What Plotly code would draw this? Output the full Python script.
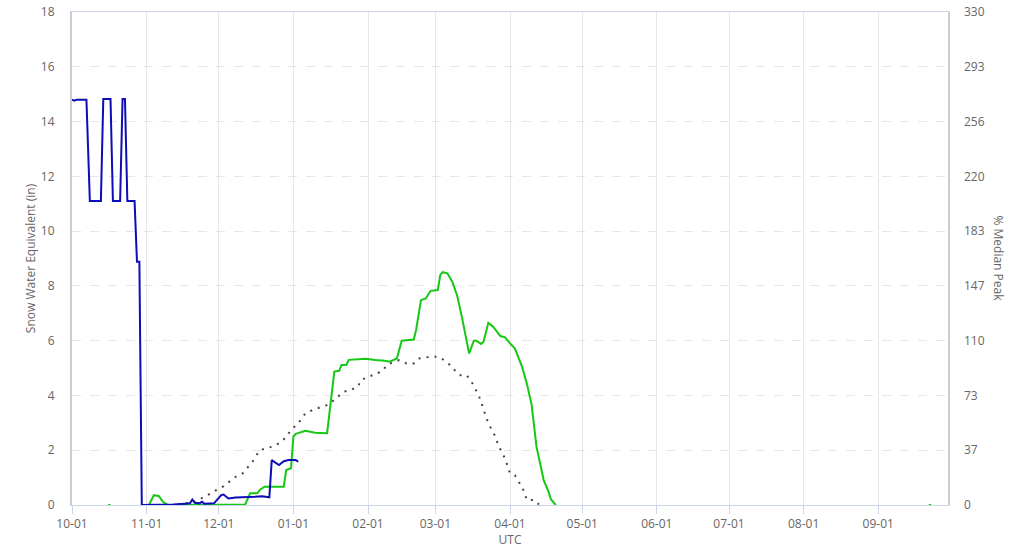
import plotly.graph_objects as go

# ---- data ----
blue_dates = ["2022-10-01", "2022-10-02", "2022-10-03", "2022-10-07", "2022-10-08 10:00",
              "2022-10-13", "2022-10-14", "2022-10-17", "2022-10-18", "2022-10-21",
              "2022-10-22", "2022-10-23", "2022-10-24", "2022-10-27", "2022-10-28",
              "2022-10-29", "2022-10-30", "2022-11-05", "2022-11-12", "2022-11-17",
              "2022-11-19", "2022-11-20", "2022-11-21", "2022-11-23", "2022-11-24",
              "2022-11-25", "2022-11-29", "2022-12-02", "2022-12-03", "2022-12-05",
              "2022-12-08", "2022-12-16", "2022-12-19", "2022-12-22", "2022-12-23",
              "2022-12-26", "2022-12-28", "2022-12-30", "2023-01-02", "2023-01-03"]
blue_vals = [14.80, 14.76, 14.80, 14.80, 11.10,
             11.10, 14.82, 14.82, 11.10, 11.10,
             14.82, 14.82, 11.10, 11.10, 8.88,
             8.88, 0.00, 0.00, 0.02, 0.05,
             0.06, 0.20, 0.08, 0.06, 0.12,
             0.05, 0.06, 0.36, 0.38, 0.24,
             0.27, 0.30, 0.32, 0.28, 1.64,
             1.46, 1.60, 1.64, 1.64, 1.58]

green_dates = ["2022-10-16", "2022-10-17", None,
               "2022-11-02", "2022-11-04", "2022-11-06", "2022-11-08", "2022-11-10",
               "2022-12-01", "2022-12-12", "2022-12-14", "2022-12-17", "2022-12-18",
               "2022-12-20", "2022-12-28", "2022-12-29", "2022-12-31", "2023-01-01",
               "2023-01-02", "2023-01-05", "2023-01-06", "2023-01-10", "2023-01-15",
               "2023-01-18", "2023-01-20", "2023-01-21", "2023-01-23", "2023-01-24",
               "2023-01-29", "2023-01-31", "2023-02-04", "2023-02-08", "2023-02-10",
               "2023-02-13", "2023-02-15", "2023-02-20", "2023-02-21", "2023-02-23",
               "2023-02-25", "2023-02-27", "2023-03-02", "2023-03-03", "2023-03-04",
               "2023-03-06", "2023-03-08", "2023-03-10", "2023-03-12", "2023-03-15",
               "2023-03-17", "2023-03-18", "2023-03-20", "2023-03-21", "2023-03-23",
               "2023-03-25", "2023-03-28", "2023-03-30", "2023-04-01", "2023-04-03",
               "2023-04-06", "2023-04-08", "2023-04-10", "2023-04-12", "2023-04-15",
               "2023-04-17", "2023-04-18", "2023-04-20", None,
               "2023-09-22", "2023-09-23"]
green_vals = [0.0, 0.0, None,
              0.00, 0.36, 0.33, 0.10, 0.00,
              0.02, 0.02, 0.43, 0.43, 0.55,
              0.67, 0.67, 1.28, 1.34, 2.50,
              2.60, 2.68, 2.71, 2.64, 2.62,
              4.87, 4.90, 5.11, 5.11, 5.30,
              5.32, 5.34, 5.29, 5.27, 5.23,
              5.35, 6.00, 6.04, 6.40, 7.48,
              7.54, 7.82, 7.85, 8.39, 8.50,
              8.46, 8.15, 7.66, 6.87, 5.54,
              6.00, 6.00, 5.88, 5.96, 6.65,
              6.51, 6.17, 6.12, 5.90, 5.72,
              5.05, 4.44, 3.65, 2.13, 0.91,
              0.49, 0.21, 0.00, None,
              0.0, 0.0]

median_dates = ["2022-11-14", "2022-11-17", "2022-11-21", "2022-11-25", "2022-11-30",
                "2022-12-03", "2022-12-08", "2022-12-11", "2022-12-13", "2022-12-15",
                "2022-12-18", "2022-12-21", "2022-12-24", "2022-12-27", "2022-12-29",
                "2022-12-31", "2023-01-03", "2023-01-06", "2023-01-09", "2023-01-15",
                "2023-01-17", "2023-01-22", "2023-01-25", "2023-01-28", "2023-01-29",
                "2023-02-04", "2023-02-07", "2023-02-09", "2023-02-14", "2023-02-17",
                "2023-02-20", "2023-02-22", "2023-02-27", "2023-03-02", "2023-03-04",
                "2023-03-07", "2023-03-11", "2023-03-14", "2023-03-16", "2023-03-19",
                "2023-03-21", "2023-03-23", "2023-03-26", "2023-03-27", "2023-03-30",
                "2023-04-01", "2023-04-03", "2023-04-04", "2023-04-06", "2023-04-07",
                "2023-04-08", "2023-04-11", "2023-04-13"]
median_vals = [0.02, 0.06, 0.12, 0.30, 0.55,
               0.69, 1.03, 1.16, 1.37, 1.58,
               2.00, 2.07, 2.15, 2.31, 2.49,
               2.74, 2.98, 3.35, 3.47, 3.65,
               3.77, 4.14, 4.20, 4.34, 4.56,
               4.78, 4.89, 5.13, 5.29, 5.17,
               5.17, 5.35, 5.41, 5.41, 5.32,
               5.11, 4.74, 4.74, 4.50, 4.01,
               3.53, 2.98, 2.49, 2.21, 1.68,
               1.16, 1.09, 0.91, 0.69, 0.45,
               0.18, 0.18, 0.02]

left_ticks = [0, 2, 4, 6, 8, 10, 12, 14, 16, 18]
right_tick_labels = ["0", "37", "73", "110", "147", "183", "220", "256", "293", "330"]
month_ticks = ["2022-10-01", "2022-11-01", "2022-12-01", "2023-01-01", "2023-02-01",
               "2023-03-01", "2023-04-01", "2023-05-01", "2023-06-01", "2023-07-01",
               "2023-08-01", "2023-09-01"]

FONT = "Open Sans, Lato, sans-serif"
TXT = "#666666"

fig = go.Figure()
fig.add_trace(go.Scatter(x=median_dates, y=median_vals, mode="lines",
                         line=dict(color="#444444", width=2, dash="2px,6px"),
                         hoverinfo="skip", showlegend=False))
fig.add_trace(go.Scatter(x=green_dates, y=green_vals, mode="lines",
                         line=dict(color="#14c814", width=2),
                         connectgaps=False, showlegend=False))
fig.add_trace(go.Scatter(x=blue_dates, y=blue_vals, mode="lines",
                         line=dict(color="#0c0cb8", width=2), showlegend=False))
# invisible trace so that the right-hand axis is drawn
fig.add_trace(go.Scatter(x=["2022-10-01"], y=[0], yaxis="y2", mode="lines",
                         line=dict(width=0), hoverinfo="skip", showlegend=False))

fig.update_layout(
    width=1031, height=548,
    margin=dict(l=72, r=83, t=12, b=43, autoexpand=False),
    paper_bgcolor="white", plot_bgcolor="white",
    font=dict(family=FONT, size=12, color=TXT),
    xaxis=dict(
        range=["2022-10-01", "2023-09-30"], automargin=False,
        tickvals=month_ticks, tickformat="%m-%d",
        showgrid=True, gridcolor="#e6e6e6", gridwidth=1,
        showline=True, linecolor="#ccd6eb", linewidth=1, mirror=True,
        ticks="outside", ticklen=8, tickcolor="#ccd6eb",
        tickfont=dict(size=12, color=TXT),
        title=dict(text="UTC", font=dict(size=12, color=TXT), standoff=4),
        zeroline=False,
    ),
    yaxis=dict(
        range=[0, 18], tickvals=left_ticks, automargin=False,
        showgrid=True, gridcolor="#e6e6e6", griddash="dash", gridwidth=1,
        showline=True, linecolor="#cccccc", linewidth=2, mirror=True,
        ticks="", ticklabelstandoff=13,
        tickfont=dict(size=12, color=TXT),
        title=dict(text="Snow Water Equivalent (in)", font=dict(size=12, color=TXT), standoff=3),
        zeroline=False,
    ),
    yaxis2=dict(
        overlaying="y", side="right", range=[0, 330], automargin=False,
        tickvals=[i * 330 / 9 for i in range(10)], ticktext=right_tick_labels,
        showgrid=False, zeroline=False, showline=False,
        ticks="", ticklabelstandoff=15,
        tickfont=dict(size=12, color=TXT),
    ),
    annotations=[dict(text="% Median Peak", textangle=90, xref="paper", yref="paper",
                      x=1.0 + (998 - 948) / 876, y=0.5, xanchor="center", yanchor="middle",
                      showarrow=False, font=dict(size=12, color=TXT, family=FONT))],
)

fig.write_html("out.html", config={"displayModeBar": False},
               post_script="document.body.style.margin='0px';")
